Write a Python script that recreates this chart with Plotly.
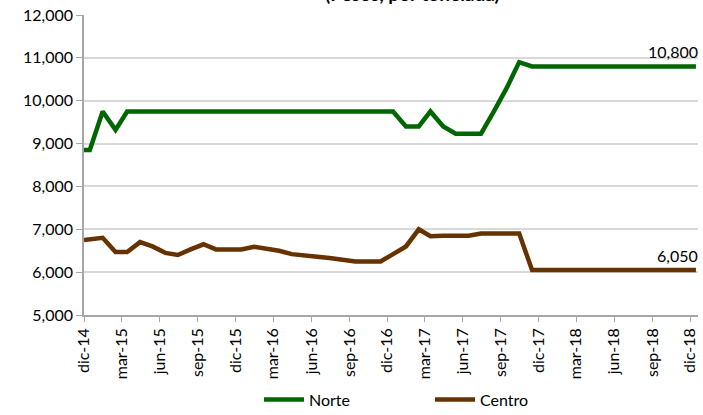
import plotly.graph_objects as go

# ---- data ----
dates = ["2014-12-01"] + [f"{y}-{m:02d}-15" for y in range(2014, 2019) for m in range(1, 13)
                          if (y, m) >= (2014, 12)]

norte = [8850, 8850,
         9750, 9320, 9750, 9750, 9750, 9750, 9750, 9750, 9750, 9750, 9750, 9750,
         9750, 9750, 9750, 9750, 9750, 9750, 9750, 9750, 9750, 9750, 9750, 9750,
         9400, 9400, 9750, 9400, 9230, 9230, 9230, 9750, 10300, 10900,
         10800, 10800,
         10800, 10800, 10800, 10800, 10800, 10800, 10800, 10800, 10800, 10800, 10800, 10800]

centro = [6750, 6770,
          6800, 6470, 6470, 6700, 6600, 6450, 6400, 6530, 6650, 6530, 6530, 6530,
          6590, 6550, 6500, 6420, 6380, 6360, 6330, 6290, 6250, 6250, 6250, 6420,
          6600, 7000, 6840, 6850, 6850, 6850, 6900, 6900, 6900, 6900,
          6050, 6050,
          6050, 6050, 6050, 6050, 6050, 6050, 6050, 6050, 6050, 6050, 6050, 6050]

tick_dates = ["2014-12-01", "2015-03-01", "2015-06-01", "2015-09-01", "2015-12-01",
              "2016-03-01", "2016-06-01", "2016-09-01", "2016-12-01", "2017-03-01",
              "2017-06-01", "2017-09-01", "2017-12-01", "2018-03-01", "2018-06-01",
              "2018-09-01", "2018-12-01"]
tick_labels = ["dic-14", "mar-15", "jun-15", "sep-15", "dic-15", "mar-16", "jun-16",
               "sep-16", "dic-16", "mar-17", "jun-17", "sep-17", "dic-17", "mar-18",
               "jun-18", "sep-18", "dic-18"]

title_text = "(Pesos, por tonelada)"

FONT = "Lato"
FS = 16

fig = go.Figure()
fig.add_trace(go.Scatter(x=dates, y=norte, name="Norte", mode="lines",
                         line=dict(color="#006600", width=4.5)))
fig.add_trace(go.Scatter(x=dates, y=centro, name="Centro", mode="lines",
                         line=dict(color="#663300", width=4.5)))

for vals in (norte, centro):
    fig.add_annotation(x=dates[-1], y=vals[-1], xref="x", yref="y",
                       text=f"{vals[-1]:,}", showarrow=False,
                       xanchor="right", yanchor="bottom", xshift=4, yshift=3,
                       font=dict(size=FS, family=FONT, color="#000000"))

# title, mostly cropped above the top edge as in the reference
fig.add_annotation(x=(412 - 84) / (698 - 84), y=1 + (15 - 7) / 300, xref="paper", yref="paper",
                   text=f"<b>{title_text}</b>", showarrow=False,
                   xanchor="center", yanchor="bottom",
                   font=dict(size=19, family=FONT, color="#000000"))

fig.update_layout(
    width=703, height=415,
    margin=dict(l=84, r=5, t=15, b=100, autoexpand=False),
    paper_bgcolor="white", plot_bgcolor="white",
    font=dict(family=FONT, size=FS, color="#000000"),
    showlegend=True,
    legend=dict(orientation="h", x=(259 - 84) / 614, xanchor="left", y=-0.225, yanchor="top",
                font=dict(size=FS, family=FONT), itemwidth=40,
                entrywidth=116, entrywidthmode="pixels"),
)
fig.update_xaxes(type="date", range=["2014-12-01", "2018-12-20"],
                 tickmode="array", tickvals=tick_dates, ticktext=tick_labels,
                 tickangle=-90, ticks="outside", ticklen=5, tickcolor="#a6a6a6",
                 showline=True, linecolor="#a6a6a6", linewidth=1.5,
                 showgrid=False, zeroline=False, tickfont=dict(size=FS),
                 automargin=False)
fig.update_yaxes(range=[5000, 12000], dtick=1000, tickformat=",",
                 ticks="outside", ticklen=6, tickcolor="#a6a6a6",
                 showline=True, linecolor="#a6a6a6", linewidth=1.5,
                 showgrid=True, gridcolor="#d9d9d9", gridwidth=1.5,
                 zeroline=False, tickfont=dict(size=FS), automargin=False)

fig.write_html("out.html", config={"displayModeBar": False},
               post_script="document.body.style.margin='0';")
